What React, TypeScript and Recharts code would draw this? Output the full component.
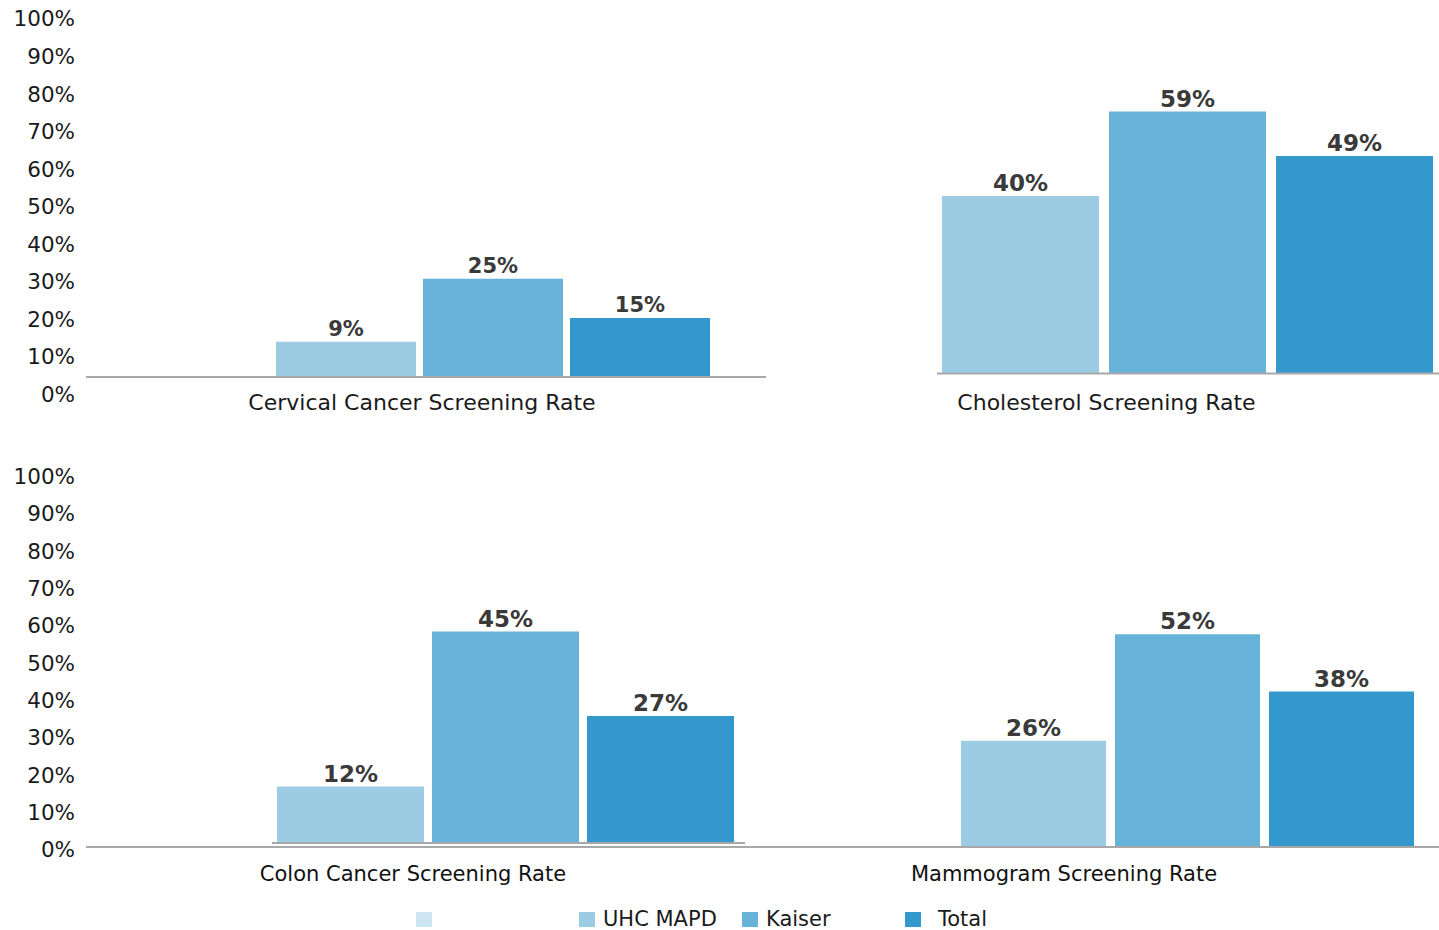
import React from 'react';
import { BarChart, Bar, XAxis, YAxis, LabelList } from 'recharts';

// ---------- data ----------
const categories = [
  'Cervical Cancer Screening Rate',
  'Cholesterol Screening Rate',
  'Colon Cancer Screening Rate',
  'Mammogram Screening Rate',
];
const seriesKeys = ['blank', 'uhc', 'kaiser', 'total'];
const seriesNames = ['', 'UHC MAPD', 'Kaiser', 'Total'];
const blankValues: (number | null)[] = [null, null, null, null];
const uhcValues = [9, 40, 12, 26];
const kaiserValues = [25, 59, 45, 52];
const totalValues = [15, 49, 27, 38];
const percentTicks = [0, 10, 20, 30, 40, 50, 60, 70, 80, 90, 100];

// ---------- styles ----------
const colors = ['#CDE6F1', '#9BCCE3', '#67B2D8', '#3399CC'];
const FONT = '"DejaVu Sans", Verdana, sans-serif';
const AXIS_GRAY = '#A8A8A8';

type Panel = {
  idx: number;
  left: number;
  width: number;
  rowTop: number;
  plotTop: number;
  baseline: number;
  yMax: number;
  padLeft: number;
  padRight: number;
  barSize: number;
  barGap: number;
  labelDx: number;
  labelDy: number;
  catFont: number;
  catColor: string;
  valFont: number;
  valOffset: number;
  dash?: string;
};

const panels: Panel[] = [
  { idx: 0, left: 86, width: 680, rowTop: 0, plotTop: 23.3, baseline: 377, yMax: 90, padLeft: 0, padRight: 14,
    barSize: 140, barGap: 7, labelDx: 3, labelDy: 33, catFont: 22, catColor: '#1a1a1a', valFont: 21, valOffset: 6 },
  { idx: 1, left: 768, width: 671, rowTop: 0, plotTop: 40.5, baseline: 373.5, yMax: 75, padLeft: 0, padRight: 0,
    barSize: 157, barGap: 10, labelDx: 3, labelDy: 36, catFont: 22, catColor: '#1a1a1a', valFont: 23, valOffset: 5,
    dash: '0 169 600' },
  { idx: 2, left: 86, width: 683, rowTop: 440, plotTop: 490.5, baseline: 843, yMax: 75, padLeft: 0, padRight: 0,
    barSize: 147, barGap: 8, labelDx: -14.5, labelDy: 38, catFont: 21, catColor: '#111', valFont: 23, valOffset: 5,
    dash: '0 186 473 1000' },
  { idx: 3, left: 86, width: 1353, rowTop: 440, plotTop: 519.8, baseline: 847, yMax: 80, padLeft: 695, padRight: 0,
    barSize: 145, barGap: 9, labelDx: -46, labelDy: 34, catFont: 21, catColor: '#111', valFont: 23, valOffset: 5 },
];

const X_AXIS_H = 30;
const BELOW = 60;

function PanelChart({ p }: { p: Panel }) {
  const data = [
    {
      name: categories[p.idx],
      blank: blankValues[p.idx],
      uhc: uhcValues[p.idx],
      kaiser: kaiserValues[p.idx],
      total: totalValues[p.idx],
    },
  ];
  const height = p.baseline - p.rowTop + BELOW;
  const renderTick = (props: any) => (
    <text
      x={props.x + p.labelDx}
      y={props.y + p.labelDy}
      textAnchor="middle"
      fontFamily={FONT}
      fontSize={p.catFont}
      fill={p.catColor}
    >
      {props.payload.value}
    </text>
  );
  return (
    <div style={{ position: 'absolute', left: p.left, top: p.rowTop }}>
      <BarChart
        width={p.width}
        height={height}
        data={data}
        barGap={p.barGap}
        margin={{ top: p.plotTop - p.rowTop, right: 0, bottom: BELOW - X_AXIS_H, left: 0 }}
      >
        <XAxis
          dataKey="name"
          type="category"
          height={X_AXIS_H}
          padding={{ left: p.padLeft, right: p.padRight }}
          axisLine={{ stroke: AXIS_GRAY, strokeWidth: 2, strokeDasharray: p.dash }}
          tickLine={false}
          tickSize={0}
          tickMargin={0}
          interval={0}
          tick={renderTick}
        />
        <YAxis hide type="number" domain={[0, p.yMax]} />
        {seriesKeys.map((k, i) => (
          <Bar key={k} dataKey={k} name={seriesNames[i]} fill={colors[i]} barSize={p.barSize} isAnimationActive={false}>
            {i > 0 ? (
              <LabelList
                dataKey={k}
                position="top"
                offset={p.valOffset}
                formatter={(v: any) => `${v}%`}
                style={{ fontFamily: FONT, fontSize: p.valFont, fontWeight: 700, fill: '#3a3a3a' }}
              />
            ) : null}
          </Bar>
        ))}
      </BarChart>
    </div>
  );
}

function PercentAxis({ top, height, tickTop, tickBottom }: { top: number; height: number; tickTop: number; tickBottom: number }) {
  return (
    <div style={{ position: 'absolute', left: 0, top }}>
      <BarChart
        width={80}
        height={height}
        data={[{ name: '', blank: null }]}
        margin={{ top: tickTop - top, right: 5, bottom: top + height - tickBottom, left: 0 }}
      >
        <XAxis dataKey="name" hide />
        <YAxis
          type="number"
          domain={[0, 100]}
          ticks={percentTicks}
          interval={0}
          width={75}
          axisLine={false}
          tickLine={false}
          tickSize={0}
          tickMargin={0}
          allowDataOverflow
          tickFormatter={(v: number) => `${v}%`}
          tick={{ fontFamily: FONT, fontSize: 21.5, fill: '#1a1a1a' }}
        />
        <Bar dataKey="blank" fill={colors[0]} isAnimationActive={false} />
      </BarChart>
    </div>
  );
}

function LegendRow() {
  return (
    <div
      style={{
        position: 'absolute',
        left: 416,
        top: 908,
        display: 'flex',
        fontFamily: FONT,
        fontSize: 21,
        color: '#1a1a1a',
        lineHeight: '22px',
      }}
    >
      {seriesNames.map((n, i) => (
        <div key={i} style={{ width: 163, display: 'flex', alignItems: 'center' }}>
          <span style={{ display: 'inline-block', width: 16, height: 15, background: colors[i] }} />
          <span style={{ marginLeft: i === 3 ? 17 : 8, whiteSpace: 'nowrap' }}>{n}</span>
        </div>
      ))}
    </div>
  );
}

export default function App() {
  return (
    <div
      style={{
        position: 'absolute',
        left: 0,
        top: 0,
        width: 1439,
        height: 930,
        background: '#ffffff',
        overflow: 'hidden',
      }}
    >
      <PercentAxis top={0} height={420} tickTop={18.8} tickBottom={394.2} />
      <PercentAxis top={440} height={430} tickTop={476.5} tickBottom={849.5} />
      {panels.map((p) => (
        <PanelChart key={p.idx} p={p} />
      ))}
      <LegendRow />
    </div>
  );
}
